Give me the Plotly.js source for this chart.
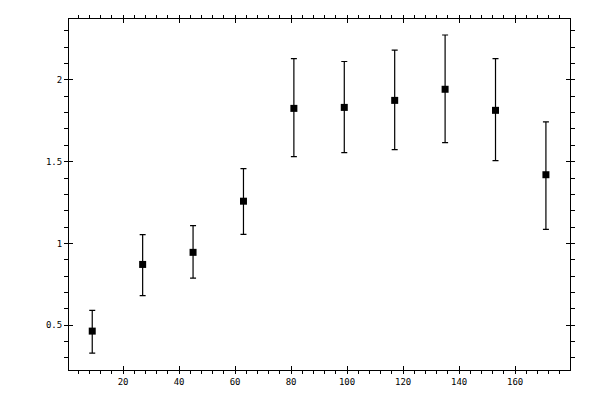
<!DOCTYPE html>
<html>
<head>
<meta charset="utf-8">
<script src="https://cdn.plot.ly/plotly-3.0.1.min.js"></script>
<style>
  body { margin: 0; background: #fff; }
  #grafica { width: 600px; height: 400px; }
</style>
</head>
<body>
<div id="grafica"></div>
<script>
// valores
const posX = [9, 27, 45, 63, 81, 99, 117, 135, 153, 171];
const valores = [0.463, 0.871, 0.945, 1.258, 1.826, 1.832, 1.875, 1.943, 1.814, 1.42];
const errArriba = [0.59, 1.053, 1.108, 1.457, 2.131, 2.113, 2.183, 2.275, 2.131, 1.744];
const errAbajo = [0.328, 0.68, 0.787, 1.055, 1.531, 1.555, 1.574, 1.617, 1.506, 1.086];

const masArriba = errArriba.map((v, i) => v - valores[i]);
const masAbajo = valores.map((v, i) => v - errAbajo[i]);

const fuente = { family: "DejaVu Sans Mono", size: 9, color: "black" };

const trazo = {
  type: "scatter",
  mode: "markers",
  x: posX,
  y: valores,
  marker: { symbol: "square", size: 7, color: "black" },
  error_y: {
    type: "data",
    symmetric: false,
    array: masArriba,
    arrayminus: masAbajo,
    color: "black",
    thickness: 1.2,
    width: 3
  },
  hoverinfo: "skip"
};

// eje exterior con etiquetas y menores, eje interior para la parte de dentro
const ejeBase = {
  showgrid: false,
  zeroline: false,
  showline: true,
  linecolor: "black",
  linewidth: 1,
  mirror: "allticks",
  tickcolor: "black",
  tickwidth: 1,
  tickfont: fuente
};

const layout = {
  width: 600,
  height: 400,
  margin: { l: 69, r: 30, t: 19, b: 30 },
  paper_bgcolor: "white",
  plot_bgcolor: "white",
  showlegend: false,
  xaxis: {
    ...ejeBase,
    range: [0.7, 179.6],
    dtick: 20,
    tick0: 0,
    ticks: "outside",
    ticklen: 3,
    minor: { dtick: 4, tick0: 0, ticks: "outside", ticklen: 3, tickcolor: "black", tickwidth: 1, showgrid: false }
  },
  xaxis2: {
    ...ejeBase,
    overlaying: "x",
    matches: "x",
    range: [0.7, 179.6],
    dtick: 20,
    tick0: 0,
    ticks: "inside",
    ticklen: 4,
    showticklabels: false
  },
  yaxis: {
    ...ejeBase,
    range: [0.225, 2.373],
    dtick: 0.5,
    tick0: 0,
    ticks: "outside",
    ticklen: 4,
    minor: { dtick: 0.1, tick0: 0, ticks: "outside", ticklen: 4, tickcolor: "black", tickwidth: 1, showgrid: false }
  },
  yaxis2: {
    ...ejeBase,
    overlaying: "y",
    matches: "y",
    range: [0.225, 2.373],
    dtick: 0.5,
    tick0: 0,
    ticks: "inside",
    ticklen: 4,
    showticklabels: false
  }
};

const vacio = { type: "scatter", mode: "markers", x: [], y: [], xaxis: "x2", yaxis: "y2", hoverinfo: "skip" };

Plotly.newPlot("grafica", [trazo, vacio], layout, { staticPlot: true });
</script>
</body>
</html>
